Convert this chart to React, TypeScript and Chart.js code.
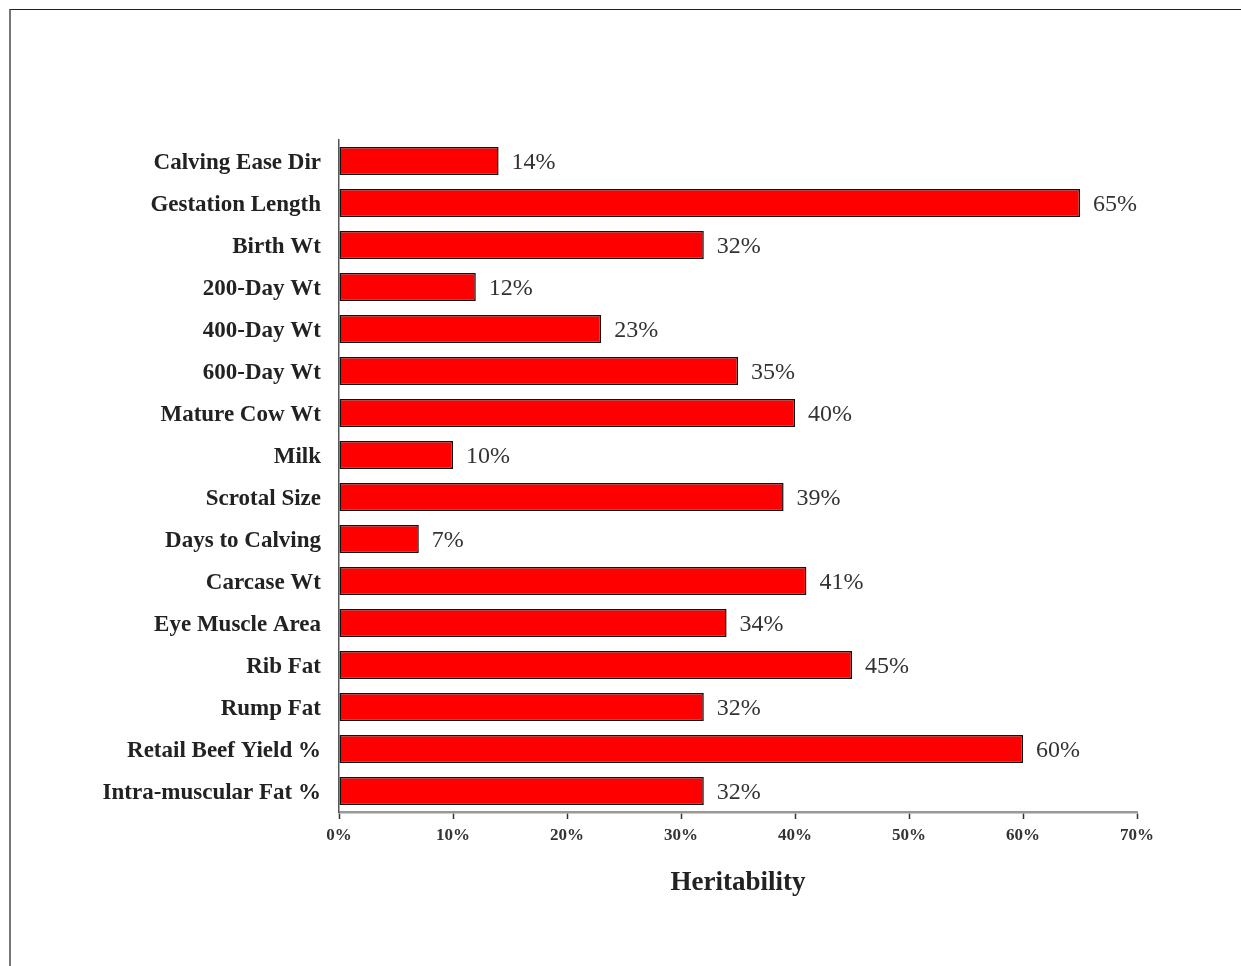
import React, { useEffect, useRef } from "react";
import { Chart, registerables } from "chart.js";

Chart.register(...registerables);

const categories = [
  "Calving Ease Dir",
  "Gestation Length",
  "Birth Wt",
  "200-Day Wt",
  "400-Day Wt",
  "600-Day Wt",
  "Mature Cow Wt",
  "Milk",
  "Scrotal Size",
  "Days to Calving",
  "Carcase Wt",
  "Eye Muscle Area",
  "Rib Fat",
  "Rump Fat",
  "Retail Beef Yield %",
  "Intra-muscular Fat %",
];

const heritability = [14, 65, 32, 12, 23, 35, 40, 10, 39, 7, 41, 34, 45, 32, 60, 32];

const axisMin = 0;
const axisMax = 70;
const axisStep = 10;
const axisTitle = "Heritability";

const SERIF = '"Liberation Serif", "Times New Roman", serif';

const valueLabels = {
  id: "valueLabels",
  afterDatasetsDraw(chart: any) {
    const ctx = chart.ctx;
    const meta = chart.getDatasetMeta(0);
    ctx.save();
    ctx.font = `24px ${SERIF}`;
    ctx.fillStyle = "#333";
    ctx.textAlign = "left";
    ctx.textBaseline = "middle";
    meta.data.forEach((el: any, i: number) => {
      ctx.fillText(`${heritability[i]}%`, el.x + 13, el.y + 2);
    });
    ctx.restore();
  },
};

export default function App() {
  const ref = useRef<HTMLCanvasElement | null>(null);

  useEffect(() => {
    if (!ref.current) return;
    const chart = new Chart(ref.current, {
      type: "bar",
      data: {
        labels: categories,
        datasets: [
          {
            data: heritability,
            backgroundColor: "#ff0000",
            borderColor: "#111",
            borderWidth: 1.5,
            borderSkipped: false,
            barPercentage: 0.67,
            categoryPercentage: 1,
          },
        ],
      },
      options: {
        indexAxis: "y",
        responsive: false,
        animation: false,
        devicePixelRatio: 1,
        layout: { padding: { left: 0, right: 104, top: 140, bottom: 0 } },
        plugins: {
          legend: { display: false },
          tooltip: { enabled: false },
        },
        scales: {
          x: {
            min: axisMin,
            max: axisMax,
            ticks: {
              stepSize: axisStep,
              callback: (v: any) => `${v}%`,
              font: { family: SERIF, size: 17, weight: "bold" },
              color: "#333",
              padding: 6,
              maxRotation: 0,
            },
            grid: {
              display: true,
              drawOnChartArea: false,
              drawTicks: true,
              tickLength: 7,
              tickColor: "#333",
              tickWidth: 1.5,
            },
            border: { display: true, color: "#999", width: 2.5 },
            title: {
              display: true,
              text: axisTitle,
              font: { family: SERIF, size: 27, weight: "bold" },
              color: "#222",
              padding: { top: 0, bottom: 67 },
            },
            afterFit: (scale: any) => {
              scale.height = 154;
            },
          },
          y: {
            ticks: {
              font: { family: SERIF, size: 23, weight: "bold" },
              color: "#222",
              padding: 18,
              labelOffset: 2,
            },
            grid: { display: true, drawOnChartArea: false, drawTicks: false },
            border: { display: true, color: "#555", width: 1.5 },
            afterFit: (scale: any) => {
              scale.width = 339;
            },
          },
        },
      },
      plugins: [valueLabels],
    });
    return () => chart.destroy();
  }, []);

  return (
    <div style={{ position: "fixed", left: 0, top: 0, width: 1241, height: 966, background: "#fff", overflow: "hidden" }}>
      <div
        style={{
          position: "absolute",
          left: 9,
          top: 9,
          width: 1300,
          height: 1000,
          borderTop: "1.5px solid #222",
          borderLeft: "2px solid #777",
        }}
      />
      <canvas ref={ref} width={1241} height={966} style={{ position: "absolute", left: 0, top: 0, width: 1241, height: 966 }} />
    </div>
  );
}
